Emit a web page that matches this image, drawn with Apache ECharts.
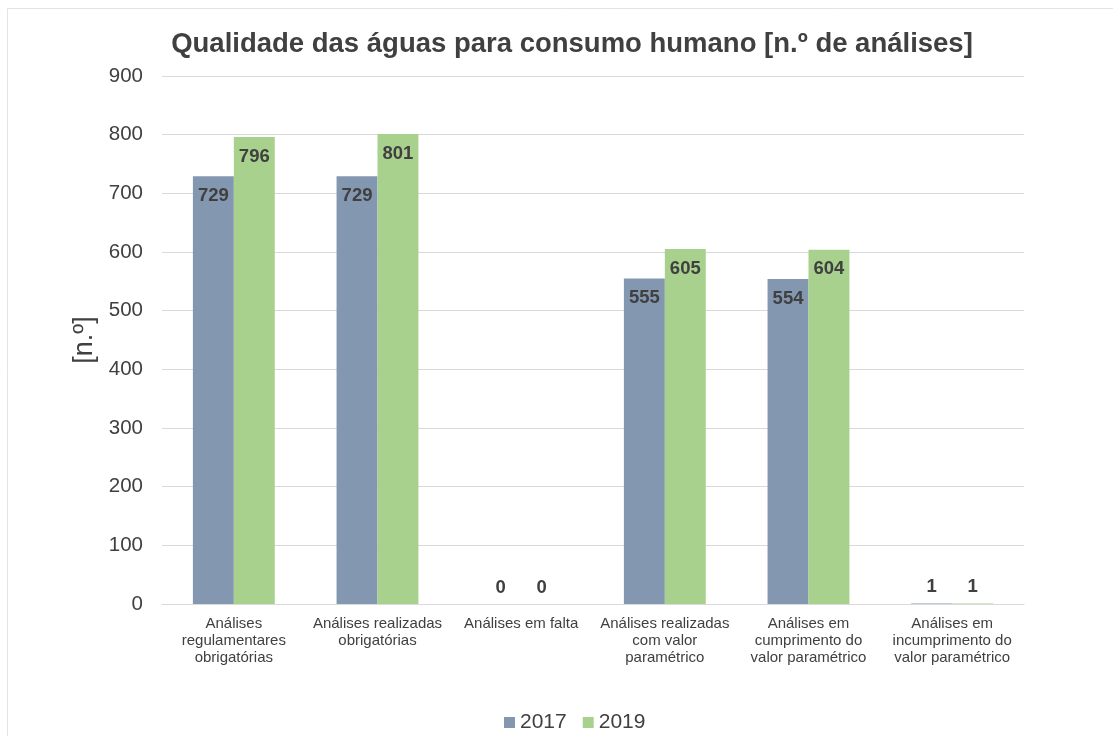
<!DOCTYPE html>
<html>
<head>
<meta charset="utf-8">
<script src="https://cdn.jsdelivr.net/npm/echarts@6/dist/echarts.min.js"></script>
<style>
html,body{margin:0;padding:0;background:#fff;}
#chart{width:1113px;height:736px;}
</style>
</head>
<body>
<div id="chart"></div>
<script>
var categories = [
  "Análises\nregulamentares\nobrigatórias",
  "Análises realizadas\nobrigatórias",
  "Análises em falta",
  "Análises realizadas\ncom valor\nparamétrico",
  "Análises em\ncumprimento do\nvalor paramétrico",
  "Análises em\nincumprimento do\nvalor paramétrico"
];
var seriesNames = ["2017", "2019"];
var values2017 = [729, 729, 0, 555, 554, 1];
var values2019 = [796, 801, 0, 605, 604, 1];
var yTicks = [0, 100, 200, 300, 400, 500, 600, 700, 800, 900];

var FONT = '"Liberation Sans", Arial, sans-serif';
var TXT = '#404040';

function toItems(arr) {
  return arr.map(function (v) {
    var small = v < 50;
    return {
      value: v,
      label: small ? { position: 'top', distance: 7 } : { position: 'insideTop', distance: 10 }
    };
  });
}

var chart = echarts.init(document.getElementById('chart'));
chart.setOption({
  animation: false,
  backgroundColor: '#ffffff',
  textStyle: { fontFamily: FONT },
  graphic: [{
    type: 'rect',
    shape: { x: 7.5, y: 8.5, width: 1120, height: 740 },
    style: { fill: 'none', stroke: '#e3e3e3', lineWidth: 1 },
    silent: true
  }],
  title: {
    text: 'Qualidade das águas para consumo humano [n.º de análises]',
    left: 567, top: 25, textAlign: 'center',
    textStyle: { fontFamily: FONT, fontSize: 27.5, fontWeight: 'bold', color: TXT }
  },
  legend: {
    data: seriesNames,
    left: 499, top: 707,
    itemWidth: 11, itemHeight: 11, itemGap: 16,
    icon: 'rect',
    textStyle: { fontFamily: FONT, fontSize: 21, color: TXT }
  },
  grid: { left: 162, right: 89, top: 76, bottom: 132, containLabel: false },
  xAxis: {
    type: 'category',
    data: categories,
    axisLine: { lineStyle: { color: '#d9d9d9', width: 1 } },
    axisTick: { show: false },
    axisLabel: {
      interval: 0, fontFamily: FONT, fontSize: 15, color: TXT,
      lineHeight: 17, margin: 11
    }
  },
  yAxis: {
    type: 'value',
    min: 0, max: 900, interval: 100,
    name: '[n.º]',
    nameLocation: 'middle',
    nameGap: 58,
    nameRotate: 90,
    nameTextStyle: { fontFamily: FONT, fontSize: 27, color: TXT },
    axisLine: { show: false },
    axisTick: { show: false },
    splitLine: { lineStyle: { color: '#d9d9d9', width: 1 } },
    axisLabel: {
      fontFamily: FONT, fontSize: 20.5, color: TXT, margin: 19,
      formatter: function (v) { return yTicks.indexOf(v) >= 0 ? String(v) : ''; }
    }
  },
  series: [
    {
      name: seriesNames[0], type: 'bar', data: toItems(values2017),
      itemStyle: { color: '#8497b0' },
      barGap: '0%', barCategoryGap: '43%',
      label: { show: true, fontFamily: FONT, fontSize: 18.5, fontWeight: 'bold', color: TXT }
    },
    {
      name: seriesNames[1], type: 'bar', data: toItems(values2019),
      itemStyle: { color: '#a9d18e' },
      barGap: '0%', barCategoryGap: '43%',
      label: { show: true, fontFamily: FONT, fontSize: 18.5, fontWeight: 'bold', color: TXT }
    }
  ]
});
</script>
</body>
</html>
